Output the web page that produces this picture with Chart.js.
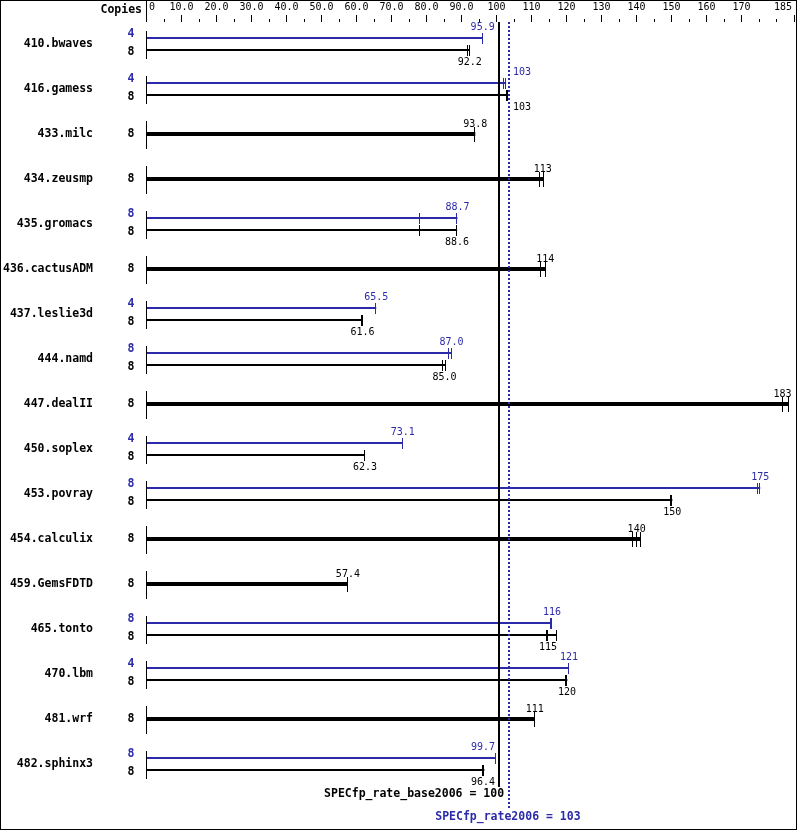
<!DOCTYPE html>
<html>
<head>
<meta charset="utf-8">
<title>SPECfp_rate2006</title>
<script src="https://cdn.jsdelivr.net/npm/chart.js@4.4.1/dist/chart.umd.min.js"></script>
<style>
    html, body { margin: 0; padding: 0; background: #fff; }
    #wrap { width: 799px; height: 831px; }
</style>
</head>
<body>
<div id="wrap"><canvas id="chart" width="799" height="831"></canvas></div>
<script>
// Benchmarks, copies and ratios (peak = blue, base = black)
const benchmarks = ['410.bwaves', '416.gamess', '433.milc', '434.zeusmp', '435.gromacs', '436.cactusADM',
    '437.leslie3d', '444.namd', '447.dealII', '450.soplex', '453.povray', '454.calculix',
    '459.GemsFDTD', '465.tonto', '470.lbm', '481.wrf', '482.sphinx3'];
const peakCopies = [4, 4, null, null, 8, null, 4, 8, null, 4, 8, null, null, 8, 4, null, 8];
const baseCopies = [8, 8, 8, 8, 8, 8, 8, 8, 8, 8, 8, 8, 8, 8, 8, 8, 8];
const peakRatio = [95.9, 102.6, null, null, 88.7, null, 65.5, 87.0, null, 73.1, 175.2, null, null, 115.7, 120.6, null, 99.7];
const baseRatio = [92.2, 103.0, 93.8, 113.1, 88.6, 113.8, 61.6, 85.0, 183.4, 62.3, 150.1, 139.9, 57.4, 114.6, 120.0, 110.8, 96.4];
// individual run results (tick marks on the bars)
const peakRuns = [[95.9], [102.1, 102.6], null, null, [78.1, 88.7], null, [65.5], [86.2, 87.0], null,
    [73.1], [174.6, 175.2], null, null, [115.4, 115.7], [120.6], null, [99.7]];
const baseRuns = [[91.8, 92.2], [102.9, 103.2], [93.8], [112.3, 113.4], [78.1, 88.6], [112.6, 113.9],
    [61.3, 61.6], [84.6, 85.3], [181.6, 183.4], [62.3], [149.8, 150.1], [138.9, 139.9, 141.1], [57.4],
    [114.2, 114.6, 117.1], [119.8, 120.1], [110.8], [96.1, 96.4]];

const baseScore = 100.45;
const peakScore = 103.4;

// top axis
const axisMax = 185;
const tickValues = [0, 5, 10, 15, 20, 25, 30, 35, 40, 45, 50, 55, 60, 65, 70, 75, 80, 85, 90, 95,
    100, 105, 110, 115, 120, 125, 130, 135, 140, 145, 150, 155, 160, 165, 170, 175, 180, 185];
const labelValues = [0, 10, 20, 30, 40, 50, 60, 70, 80, 90, 100, 110, 120, 130, 140, 150, 160, 170, 185];
const labelTexts = ['0', '10.0', '20.0', '30.0', '40.0', '50.0', '60.0', '70.0', '80.0', '90.0',
    '100', '110', '120', '130', '140', '150', '160', '170', '185'];

const BLUE = '#2B2BAA';
const MONO = '"DejaVu Sans Mono", monospace';

const maxRun = runs => (runs ? Math.max(...runs) : null);
const hasPeak = i => peakRatio[i] != null;

const specPlugin = {
    id: 'spec',
    afterDatasetsDraw(chart) {
        const { ctx, chartArea: area, scales: { x, y } } = chart;
        const col = v => Math.round(x.getPixelForValue(v)) - 1;
        const basePx = x.getPixelForValue(baseScore);
        const peakPx = x.getPixelForValue(peakScore);
        ctx.save();

        // top axis ticks + labels
        ctx.fillStyle = '#000';
        ctx.fillRect(col(0), 0, 1, 22);
        tickValues.forEach(v => {
            const major = labelValues.includes(v);
            if (major) ctx.fillRect(col(v), 15, 1, 7);
            else ctx.fillRect(col(v), 19, 1, 3);
        });
        ctx.font = `10px ${MONO}`;
        ctx.textBaseline = 'middle';
        labelValues.forEach((v, k) => {
            if (k === 0) { ctx.textAlign = 'left'; ctx.fillText(labelTexts[k], col(v) + 3, 7); }
            else if (k === labelValues.length - 1) { ctx.textAlign = 'right'; ctx.fillText(labelTexts[k], col(v) - 2, 7); }
            else { ctx.textAlign = 'center'; ctx.fillText(labelTexts[k], col(v) + 0.5, 7); }
        });
        ctx.font = `bold 11.5px ${MONO}`;
        ctx.textAlign = 'right';
        ctx.fillText('Copies', 142, 10);

        // score lines
        ctx.fillRect(Math.round(basePx - 1), 22, 2, 765);
        ctx.strokeStyle = BLUE;
        ctx.lineWidth = 2;
        ctx.setLineDash([2, 2]);
        ctx.beginPath();
        ctx.moveTo(Math.round(peakPx - 1) + 1, 22);
        ctx.lineTo(Math.round(peakPx - 1) + 1, 808);
        ctx.stroke();
        ctx.setLineDash([]);

        const lineL = Math.round(basePx - 1), lineR = Math.round(peakPx - 1) + 2;
        const labelX = (text, v) => {
            const w = ctx.measureText(text).width;
            const cx = x.getPixelForValue(v);
            let lx = cx - w / 2;
            if (lx + w > lineL - 2 && lx < lineR + 2) lx = cx < lineL ? lineL - 3 - w : lineR + 3;
            if (lx + w > area.right - 3) lx = area.right - 3 - w;
            return lx;
        };
        const ticks = (runs, cy, h) => runs.forEach(r => ctx.fillRect(col(r), cy - h, 1, 2 * h + 1));

        benchmarks.forEach((name, i) => {
            const cy = y.getPixelForValue(i);
            ctx.fillStyle = '#000';
            ctx.fillRect(col(0), cy - 13, 1, 28);

            ctx.font = `bold 11.5px ${MONO}`;
            ctx.textAlign = 'right';
            ctx.textBaseline = 'middle';
            ctx.fillText(name, 93, cy);

            ctx.textAlign = 'center';
            if (hasPeak(i)) {
                ctx.fillStyle = BLUE;
                ctx.fillText(String(peakCopies[i]), 131, cy - 10);
                ctx.fillStyle = '#000';
                ctx.fillText(String(baseCopies[i]), 131, cy + 8);

                ctx.font = `10px ${MONO}`;
                ctx.textAlign = 'left';
                ctx.fillStyle = BLUE;
                ticks(peakRuns[i], cy - 6, 5);
                const pt = peakRatio[i].toPrecision(3);
                ctx.fillText(pt, labelX(pt, peakRatio[i]), cy - 17);
                ctx.fillStyle = '#000';
                ticks(baseRuns[i], cy + 6, 5);
                const bt = baseRatio[i].toPrecision(3);
                ctx.fillText(bt, labelX(bt, baseRatio[i]), cy + 18);
            } else {
                ctx.fillText(String(baseCopies[i]), 131, cy);
                ctx.font = `10px ${MONO}`;
                ctx.textAlign = 'left';
                ticks(baseRuns[i], cy, 7);
                const bt = baseRatio[i].toPrecision(3);
                ctx.fillText(bt, labelX(bt, baseRatio[i]), cy - 10);
            }
        });

        // score captions
        ctx.font = `bold 11.5px ${MONO}`;
        ctx.textBaseline = 'middle';
        ctx.fillStyle = '#000';
        ctx.textAlign = 'right';
        ctx.fillText(`SPECfp_rate_base2006 = ${baseScore.toPrecision(3)}`, basePx + 5.5, 794);
        ctx.fillStyle = BLUE;
        ctx.textAlign = 'center';
        ctx.fillText(`SPECfp_rate2006 = ${peakScore.toPrecision(3)}`, peakPx - 1, 817);

        // frame
        ctx.strokeStyle = '#000';
        ctx.lineWidth = 1;
        ctx.strokeRect(0.5, 0.5, 796, 829);
        ctx.restore();
    }
};

new Chart(document.getElementById('chart'), {
    type: 'bar',
    data: {
        labels: benchmarks,
        datasets: [
            {   // peak
                data: benchmarks.map((_, i) => (hasPeak(i) ? maxRun(peakRuns[i]) : null)),
                backgroundColor: BLUE,
                maxBarThickness: 2
            },
            {   // base
                data: benchmarks.map((_, i) => (hasPeak(i) ? maxRun(baseRuns[i]) : null)),
                backgroundColor: '#000',
                maxBarThickness: 2
            },
            {   // base only (peak not run separately)
                data: benchmarks.map((_, i) => (hasPeak(i) ? null : maxRun(baseRuns[i]))),
                backgroundColor: '#000',
                maxBarThickness: 4
            }
        ]
    },
    options: {
        indexAxis: 'y',
        responsive: false,
        animation: false,
        skipNull: true,
        categoryPercentage: 24 / 45,
        barPercentage: 0.9,
        layout: { padding: { left: 147, right: 4.5, top: 21.5, bottom: 44.5 } },
        scales: {
            x: { type: 'linear', min: 0, max: axisMax, display: false, stacked: false },
            y: { type: 'category', display: false, stacked: false, offset: true }
        },
        plugins: { legend: { display: false }, tooltip: { enabled: false } }
    },
    plugins: [specPlugin]
});
</script>
</body>
</html>
